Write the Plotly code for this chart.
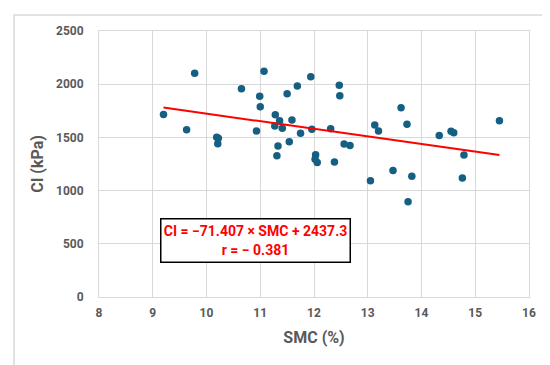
import plotly.graph_objects as go

smc = [9.20, 9.78, 9.63, 10.19, 10.22, 10.21, 10.65, 11.07, 10.99, 11.00,
       10.93, 11.28, 11.27, 11.36, 11.41, 11.33, 11.31, 11.50, 11.69, 11.59,
       11.54, 11.75, 11.94, 11.96, 12.03, 12.02, 12.06, 12.31, 12.38, 12.47,
       12.48, 12.56, 12.67, 13.05, 13.13, 13.20, 13.47, 13.62, 13.73, 13.82,
       13.75, 14.33, 14.55, 14.60, 15.45, 14.79, 14.76]
ci = [1715, 2102, 1573, 1501, 1491, 1441, 1958, 2121, 1886, 1789,
      1560, 1714, 1607, 1657, 1585, 1419, 1328, 1911, 1983, 1664,
      1460, 1538, 2071, 1576, 1338, 1294, 1263, 1582, 1269, 1989,
      1892, 1438, 1425, 1093, 1617, 1560, 1190, 1779, 1623, 1134,
      896, 1519, 1557, 1544, 1657, 1335, 1118]

slope = -71.407
intercept = 2437.3
r_value = -0.381

x_ticks = [8, 9, 10, 11, 12, 13, 14, 15, 16]
y_ticks = [0, 500, 1000, 1500, 2000, 2500]

line_x = [min(smc), max(smc)]
line_y = [slope * v + intercept for v in line_x]

W, H = 550, 365
ml, mr, mt, mb = 91, 29, 23, 76
pw, ph = W - ml - mr, H - mt - mb

fig = go.Figure()
fig.add_trace(go.Scatter(x=smc, y=ci, mode="markers",
                         marker=dict(color="#156082", size=7.5),
                         showlegend=False, hoverinfo="x+y"))
fig.add_trace(go.Scatter(x=line_x, y=line_y, mode="lines",
                         line=dict(color="#FF0000", width=2),
                         showlegend=False))

gray = "#595959"
tickfont = dict(family="Roboto", size=12, color=gray, weight="bold")
titlefont = dict(family="Roboto", size=16, color=gray, weight="bold")

fig.update_xaxes(range=[8, 16], tickvals=x_ticks, ticktext=[str(t) for t in x_ticks],
                 showgrid=True, gridcolor="#D9D9D9", gridwidth=1,
                 showline=True, linecolor="#D9D9D9", linewidth=1, mirror=True,
                 zeroline=False, ticks="", tickfont=tickfont, ticklabelstandoff=5,
                 title=dict(text="SMC (%)", font=titlefont, standoff=12))
fig.update_yaxes(range=[0, 2500], tickvals=y_ticks, ticktext=[str(t) for t in y_ticks],
                 showgrid=True, gridcolor="#D9D9D9", gridwidth=1,
                 showline=True, linecolor="#D9D9D9", linewidth=1, mirror=True,
                 zeroline=False, ticks="", tickfont=tickfont, ticklabelstandoff=12,
                 title=dict(text="CI (kPa)", font=titlefont, standoff=8))

fig.add_annotation(x=10.91, y=529, xref="x", yref="y",
                   text=f"CI = \u221271.407 \u00d7 SMC + 2437.3<br>r = \u2212 {abs(r_value):.3f}",
                   showarrow=False, align="center",
                   font=dict(family="Roboto", size=14, color="#FF0000", weight="bold"),
                   bgcolor="white", bordercolor="#000000", borderwidth=1.5,
                   borderpad=2, width=184, height=38)

# outer chart border
fig.add_shape(type="rect", xref="paper", yref="paper",
              x0=(6 - ml) / pw, x1=(542 - ml) / pw,
              y0=-(358 - (H - mb)) / ph, y1=1 + (mt - 7) / ph,
              line=dict(color="#D9D9D9", width=1.5), layer="below")

fig.update_layout(width=W, height=H, margin=dict(l=ml, r=mr, t=mt, b=mb),
                  paper_bgcolor="white", plot_bgcolor="white")

fig.write_html("out.html")
